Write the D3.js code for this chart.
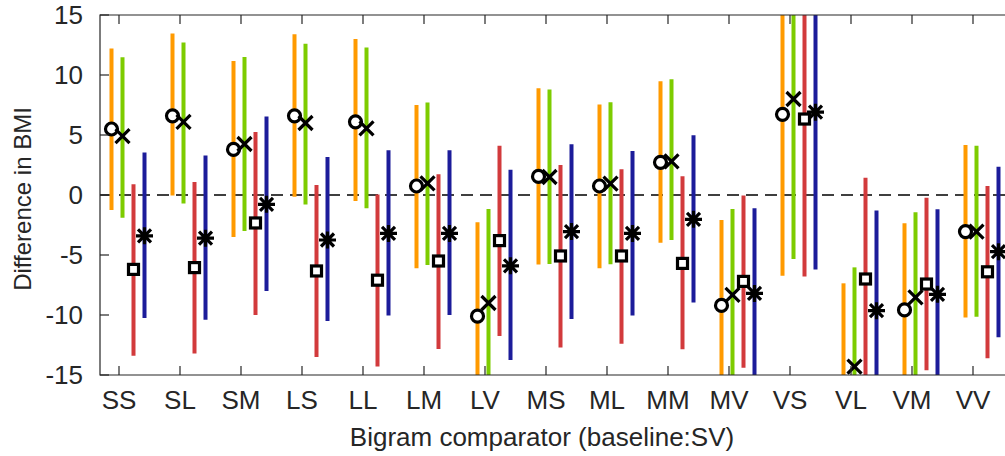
<!DOCTYPE html>
<html>
<head>
<meta charset="utf-8">
<script src="https://cdn.jsdelivr.net/npm/d3@7/dist/d3.min.js"></script>
<style>
  html, body { margin: 0; padding: 0; background: #fff; }
  svg { display: block; }
  text { font-family: "Liberation Sans", Arial, Helvetica, sans-serif; fill: #262626; }
</style>
</head>
<body>
<svg id="chart" width="1005" height="456"></svg>
<script>
// Bigram comparators, each compared against the SV baseline
const categories = ["SS","SL","SM","LS","LL","LM","LV","MS","ML","MM","MV","VS","VL","VM","VV"];

// Estimates and interval bounds for the four models
const orangeEst = [5.5, 6.6, 3.8, 6.6, 6.1, 0.75, -10.1, 1.55, 0.75, 2.72, -9.2, 6.72, -16.5, -9.58, -3.05];
const orangeLo  = [-1.25, -0.05, -3.5, -0.15, -0.5, -6.1, -16, -5.8, -6.1, -3.97, -16, -6.72, -16, -16, -10.2];
const orangeHi  = [12.2, 13.45, 11.17, 13.4, 13.0, 7.5, -2.28, 8.9, 7.55, 9.47, -2.08, 16, -7.36, -2.36, 4.17];

const greenEst = [4.9, 6.1, 4.25, 6.0, 5.55, 0.97, -9.0, 1.5, 0.95, 2.8, -8.33, 8.0, -14.3, -8.53, -3.05];
const greenLo  = [-1.9, -0.7, -3.0, -0.8, -1.1, -5.83, -16, -5.75, -5.78, -3.75, -16, -5.33, -16, -16, -10.14];
const greenHi  = [11.47, 12.7, 11.5, 12.6, 12.3, 7.7, -1.17, 8.8, 7.72, 9.64, -1.17, 16, -6.03, -1.44, 4.11];

const redEst = [-6.2, -6.05, -2.33, -6.33, -7.1, -5.5, -3.8, -5.08, -5.08, -5.7, -7.2, 6.33, -7.0, -7.42, -6.4];
const redLo  = [-13.4, -13.2, -10.0, -13.5, -14.3, -12.83, -11.75, -12.7, -12.4, -12.86, -14.4, -6.8, -16, -14.6, -13.6];
const redHi  = [0.9, 1.08, 5.25, 0.83, 0.05, 1.72, 4.1, 2.5, 2.14, 1.56, -0.05, 16, 1.44, -0.22, 0.75];

const blueEst = [-3.4, -3.6, -0.78, -3.75, -3.2, -3.2, -5.9, -3.05, -3.2, -2.03, -8.2, 6.9, -9.64, -8.28, -4.72];
const blueLo  = [-10.25, -10.4, -8.0, -10.5, -10.05, -10.0, -13.75, -10.33, -10.05, -8.95, -16, -6.2, -16, -16, -11.86];
const blueHi  = [3.55, 3.3, 6.55, 3.17, 3.72, 3.72, 2.1, 4.22, 3.67, 4.97, -1.1, 16, -1.3, -1.19, 2.36];

const yTicks = [-15, -10, -5, 0, 5, 10, 15];

const series = [
  { color: "#FF9A00", marker: "circle",   est: orangeEst, lo: orangeLo, hi: orangeHi },
  { color: "#7DCC00", marker: "cross",    est: greenEst,  lo: greenLo,  hi: greenHi  },
  { color: "#D23A3C", marker: "square",   est: redEst,    lo: redLo,    hi: redHi    },
  { color: "#1C1C9A", marker: "asterisk", est: blueEst,   lo: blueLo,   hi: blueHi   }
];

const svg = d3.select("#chart");
const plotLeft = 100, plotTop = 15, plotBottom = 375, plotRight = 1012;
const fontSize = 26;

const x = d3.scaleLinear().domain([0, categories.length - 1]).range([119, 973]);
const y = d3.scaleLinear().domain([-15, 15]).range([plotBottom, plotTop]);
// horizontal shift of each series' bar within a group
const dx = d3.scaleLinear().domain([0, 3]).range([-7.5, 25.5]);

svg.append("defs").append("clipPath").attr("id", "plotClip")
  .append("rect").attr("x", plotLeft).attr("y", plotTop)
  .attr("width", plotRight - plotLeft).attr("height", plotBottom - plotTop);

const plot = svg.append("g").attr("clip-path", "url(#plotClip)");

// zero reference line
plot.append("line")
  .attr("x1", plotLeft).attr("x2", plotRight)
  .attr("y1", y(0)).attr("y2", y(0))
  .attr("stroke", "#000").attr("stroke-width", 1.3)
  .attr("stroke-dasharray", "12,7");

// interval bars
series.forEach((s, si) => {
  plot.append("g").selectAll("line")
    .data(categories.map((c, i) => ({ i, lo: s.lo[i], hi: s.hi[i] })))
    .join("line")
    .attr("x1", d => x(d.i) + dx(si)).attr("x2", d => x(d.i) + dx(si))
    .attr("y1", d => y(d.lo)).attr("y2", d => y(d.hi))
    .attr("stroke", s.color).attr("stroke-width", 4);
});

// point estimates
series.forEach((s, si) => {
  const g = plot.append("g");
  categories.forEach((c, i) => {
    const cx = x(i) + dx(si), cy = y(s.est[i]);
    const m = g.append("g").attr("transform", `translate(${cx},${cy})`)
      .attr("stroke", "#000").attr("stroke-width", 3.2).attr("fill", "none");
    if (s.marker === "circle") {
      m.append("circle").attr("r", 6).attr("fill", "#fff");
    } else if (s.marker === "square") {
      m.append("rect").attr("x", -5).attr("y", -5).attr("width", 10).attr("height", 10).attr("fill", "#fff");
    } else if (s.marker === "cross") {
      const a = 7;
      m.append("path").attr("d", `M${-a},${-a}L${a},${a}M${-a},${a}L${a},${-a}`);
    } else {
      const a = 8.5, b = 6.5;
      m.append("path").attr("d", `M0,${-a}L0,${a}M${-b},${-b}L${b},${b}M${-b},${b}L${b},${-b}M${-a},0L${a},0`);
    }
  });
});

// axes box and ticks
const axisColor = "#262626";
const ax = svg.append("g");
ax.append("path")
  .attr("d", `M${plotRight},${plotTop}H${plotLeft}V${plotBottom}H${plotRight}`)
  .attr("fill", "none").attr("stroke", axisColor).attr("stroke-width", 1.2);

const tickLen = 9;
ax.append("g").selectAll("line").data(categories).join("line")
  .attr("x1", (d, i) => x(i)).attr("x2", (d, i) => x(i))
  .attr("y1", plotBottom).attr("y2", plotBottom - tickLen)
  .attr("stroke", axisColor).attr("stroke-width", 1.2);
ax.append("g").selectAll("line").data(categories).join("line")
  .attr("x1", (d, i) => x(i)).attr("x2", (d, i) => x(i))
  .attr("y1", plotTop).attr("y2", plotTop + tickLen)
  .attr("stroke", axisColor).attr("stroke-width", 1.2);
ax.append("g").selectAll("line").data(yTicks).join("line")
  .attr("x1", plotLeft).attr("x2", plotLeft + tickLen)
  .attr("y1", d => y(d)).attr("y2", d => y(d))
  .attr("stroke", axisColor).attr("stroke-width", 1.2);

// tick labels
ax.append("g").selectAll("text").data(categories).join("text")
  .attr("x", (d, i) => x(i)).attr("y", 409)
  .attr("text-anchor", "middle").attr("font-size", fontSize)
  .text(d => d);
ax.append("g").selectAll("text").data(yTicks).join("text")
  .attr("x", 83).attr("y", d => y(d)).attr("dy", "0.36em")
  .attr("text-anchor", "end").attr("font-size", fontSize)
  .text(d => d);

// axis titles
svg.append("text")
  .attr("x", 542).attr("y", 446)
  .attr("text-anchor", "middle").attr("font-size", fontSize)
  .text("Bigram comparator (baseline:SV)");
svg.append("text")
  .attr("transform", `translate(31,${(plotTop + plotBottom) / 2 + 4}) rotate(-90)`)
  .attr("text-anchor", "middle").attr("font-size", 24)
  .text("Difference in BMI");
</script>
</body>
</html>
